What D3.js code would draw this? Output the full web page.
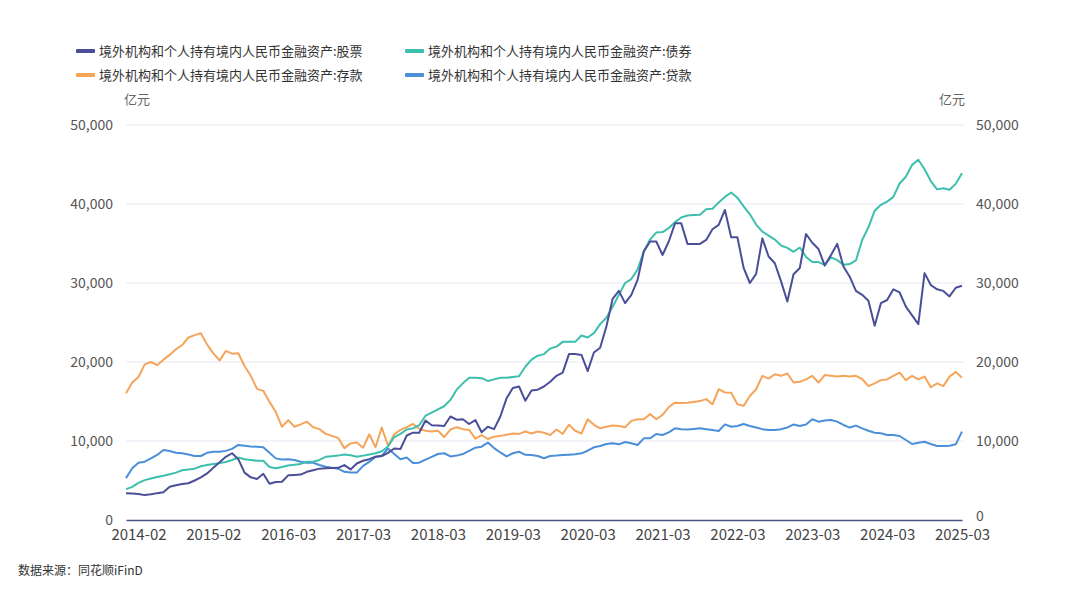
<!DOCTYPE html>
<html>
<head>
<meta charset="utf-8">
<script src="https://cdn.jsdelivr.net/npm/d3@7"></script>
<style>
  body { margin: 0; background: #fff; }
  svg text { font-family: "Noto Sans CJK SC", "Noto Sans", sans-serif; }
</style>
</head>
<body>
<svg id="chart" width="1089" height="598"></svg>
<script>
// months 2013-12 .. 2025-03, one month missing in 2015 (source gap)
var months = [];
for (var yr = 2013; yr <= 2025; yr++) {
    for (var m = 1; m <= 12; m++) {
        var lbl = yr + "-" + (m < 10 ? "0" + m : m);
        if (lbl < "2013-12" || lbl > "2025-03" || lbl === "2015-12") continue;
        months.push(lbl);
    }
}
var tickLabels = ["2014-02","2015-02","2016-03","2017-03","2018-03","2019-03","2020-03","2021-03","2022-03","2023-03","2024-03","2025-03"];
var yTicks = [0, 10000, 20000, 30000, 40000, 50000];

var seriesNames = [
    "境外机构和个人持有境内人民币金融资产:股票",
    "境外机构和个人持有境内人民币金融资产:债券",
    "境外机构和个人持有境内人民币金融资产:存款",
    "境外机构和个人持有境内人民币金融资产:贷款"
];

var stocks = [3400,3350,3300,3150,3250,3400,3500,4200,4400,4550,4650,5000,5400,5900,6600,7300,8000,8450,7700,6000,
    5400,5200,5850,4600,4800,4850,5650,5700,5750,6100,6300,6500,6550,6580,6600,6950,6400,7150,7500,7700,8000,
    8100,8500,9050,9000,10700,11050,11050,12600,12000,11950,11900,13100,12700,12750,12150,12650,11100,11800,11500,13100,
    15400,16700,16900,15100,16400,16500,16900,17500,18250,18650,21000,21000,20900,18850,21200,21800,24500,28000,29000,27450,
    28500,30400,34000,35250,35250,33550,35250,37550,37550,34950,34950,34950,35450,36800,37350,39250,35800,35800,31900,30000,31150,
    35650,33350,32500,30200,27650,31100,31900,36200,35100,34300,32200,33550,34950,32100,30800,29000,28500,27750,24600,27450,
    27850,29200,28800,27000,25900,24800,31250,29750,29200,29000,28300,29400,29650];

var bonds = [3900,4200,4700,5050,5250,5450,5600,5800,6000,6300,6400,6500,6800,6950,7100,7200,7350,7600,7900,7700,
    7600,7500,7500,6700,6550,6700,6900,7000,7100,7380,7380,7600,8000,8080,8150,8300,8200,8000,8150,8300,8450,
    8700,9300,10500,10900,11450,11600,12000,13200,13600,14000,14400,15200,16500,17300,18000,18000,17950,17600,17800,18000,
    18000,18100,18200,19400,20300,20800,21000,21700,21950,22550,22550,22550,23350,23100,23650,24800,25600,27000,28500,30000,
    30500,31700,34000,35500,36400,36450,36950,37700,38300,38550,38600,38650,39350,39400,40200,40900,41450,40800,39700,38700,37400,
    36500,36000,35500,34750,34450,33950,34500,33300,32650,32650,32300,33250,32900,32300,32400,32850,35450,37050,39150,39900,
    40300,40900,42600,43450,44950,45600,44400,42900,41850,42000,41800,42550,43900];

var deposits = [16050,17400,18100,19700,20000,19600,20300,20900,21600,22150,23100,23400,23650,22200,21100,20200,21400,21050,21100,19500,
    18250,16600,16350,14950,13700,11800,12650,11800,12100,12450,11750,11500,10900,10650,10400,9100,9700,9800,9150,10850,9200,
    11700,9400,10850,11400,11750,12150,11550,11300,11200,11300,10500,11450,11750,11500,11400,10300,10750,10250,10550,10650,
    10800,10950,10900,11200,10950,11200,11050,10750,11450,10900,12050,11300,10950,12750,12050,11600,11800,11950,11900,11750,
    12550,12750,12750,13400,12750,13300,14300,14850,14800,14850,14950,15050,15300,14650,16550,16150,16100,14650,14450,15700,16550,
    18250,17900,18450,18250,18550,17400,17500,17800,18250,17400,18350,18250,18150,18250,18150,18250,17850,16950,17300,17700,
    17800,18250,18650,17700,18250,17800,18150,16800,17300,16950,18150,18750,18000];

var loans = [5300,6550,7250,7380,7800,8230,8850,8740,8520,8440,8300,8100,8100,8500,8650,8650,8750,9000,9500,9400,
    9300,9280,9200,8520,7800,7650,7700,7600,7380,7250,7250,6960,6750,6620,6500,6100,6000,6000,6850,7350,8000,
    8100,9050,8350,7700,7900,7200,7250,7650,8000,8350,8450,8050,8150,8350,8750,9150,9280,9800,9100,8550,
    8050,8450,8650,8250,8230,8100,7820,8100,8150,8230,8270,8310,8440,8770,9200,9370,9620,9710,9580,9870,
    9710,9490,10340,10340,10890,10760,11100,11600,11500,11450,11520,11600,11500,11400,11270,12100,11800,11900,12150,11900,11700,
    11500,11400,11400,11500,11700,12100,11900,12100,12750,12450,12600,12660,12450,12030,11700,11950,11600,11300,11050,10970,
    10760,10760,10630,10130,9620,9790,9900,9620,9370,9370,9410,9580,11180];

var colors = ["#4a4f98", "#3dbfae", "#f5a55a", "#4a8fd8"];
var allSeries = [stocks, bonds, deposits, loans];

var svg = d3.select("#chart");
var pLeft = 126, pRight = 962, pTop = 125, pBottom = 520;

var x = d3.scalePoint().domain(months).range([pLeft, pRight]);
var y = d3.scaleLinear().domain([0, 50000]).range([pBottom, pTop]);

// grid lines
svg.append("g").selectAll("line").data(yTicks.slice(1)).enter().append("line")
    .attr("x1", pLeft).attr("x2", pRight + 2)
    .attr("y1", function(d){ return y(d); }).attr("y2", function(d){ return y(d); })
    .attr("stroke", "#e6e6f2").attr("stroke-width", 1);

var fmt = d3.format(",");
// left axis
var yAxisL = d3.axisLeft(y).tickValues(yTicks).tickFormat(fmt).tickSize(0).tickPadding(13);
var gL = svg.append("g").attr("transform", "translate(" + pLeft + ",0)").call(yAxisL);
gL.select(".domain").remove();
gL.selectAll("text").attr("fill", "#555").style("font-size", "14px");
// right axis
var yAxisR = d3.axisRight(y).tickValues(yTicks).tickFormat(fmt).tickSize(0).tickPadding(14);
var gR = svg.append("g").attr("transform", "translate(" + pRight + ",0)").call(yAxisR);
gR.select(".domain").remove();
gR.selectAll("text").attr("fill", "#555").style("font-size", "14px");
gR.selectAll("text").filter(function(d){ return d === 0; }).attr("dy", "0.05em");

// x axis
var xAxis = d3.axisBottom(x).tickValues(tickLabels).tickSize(0).tickPadding(9);
var gX = svg.append("g").attr("transform", "translate(0," + pBottom + ")").call(xAxis);
gX.select(".domain").attr("stroke", "#4b5082").attr("stroke-width", 1.5);
gX.selectAll("text").attr("fill", "#444").style("font-size", "15px");

// unit labels
svg.append("text").attr("x", pLeft - 2).attr("y", 104).attr("fill", "#666").style("font-size", "13px").text("亿元");
svg.append("text").attr("x", pRight + 3).attr("y", 104).attr("text-anchor", "end").attr("fill", "#666").style("font-size", "13px").text("亿元");

// lines
var line = d3.line()
    .x(function(d, i){ return x(months[i]); })
    .y(function(d){ return y(d); });

// draw order: loans, deposits, bonds, stocks on top
[3, 2, 1, 0].forEach(function(k){
    svg.append("path").datum(allSeries[k])
        .attr("d", line)
        .attr("fill", "none")
        .attr("stroke", colors[k])
        .attr("stroke-width", 2)
        .attr("stroke-linejoin", "round");
});

// legend
var legendPos = [[76, 51], [405, 51], [76, 75], [405, 75]];
seriesNames.forEach(function(name, k){
    var g = svg.append("g").attr("transform", "translate(" + legendPos[k][0] + "," + legendPos[k][1] + ")");
    g.append("rect").attr("x", 0).attr("y", -2).attr("width", 19).attr("height", 4).attr("rx", 1)
        .attr("fill", colors[k]);
    g.append("text").attr("x", 23).attr("y", 5).attr("fill", "#333").style("font-size", "13px").text(name);
});

// source note
svg.append("text").attr("x", 18).attr("y", 575).attr("fill", "#333").style("font-size", "12px").text("数据来源：同花顺iFinD");
</script>
</body>
</html>
